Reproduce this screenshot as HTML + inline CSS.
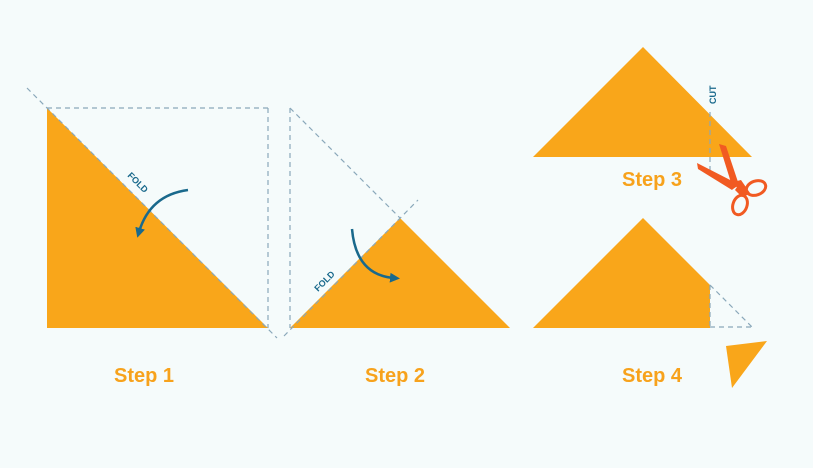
<!DOCTYPE html>
<html><head><meta charset="utf-8"><style>
html,body{margin:0;padding:0;background:#f5fbfb;}
svg{display:block}
text{font-family:"Liberation Sans",sans-serif;}
</style></head><body>
<svg width="813" height="468" viewBox="0 0 813 468" xmlns="http://www.w3.org/2000/svg">
<rect width="813" height="468" fill="#f5fbfb"/>
<defs><marker id="ah" markerWidth="10" markerHeight="10" refX="4" refY="5" orient="auto" markerUnits="userSpaceOnUse"><path d="M0,0 L10,5 L0,10 Z" fill="#19698c"/></marker></defs>
<g fill="#f9a61a">
<polygon points="47,108 268,328 47,328"/>
<polygon points="290,328 400,218 510,328"/>
<polygon points="533,157 643,47 752,157"/>
<polygon points="533,328 643,218 710,285 710,328"/>
<polygon points="726,346 767,341 732,388"/>
</g>
<g stroke="#8aa8ba" stroke-width="1.2" fill="none" stroke-dasharray="5,4">
<line x1="47" y1="108" x2="268" y2="108"/>
<line x1="268" y1="108" x2="268" y2="328"/>
<line x1="27" y1="88" x2="277" y2="338"/>
<line x1="290" y1="108" x2="290" y2="328"/>
<line x1="290" y1="108" x2="400" y2="218"/>
<line x1="284" y1="336" x2="418" y2="200"/>
<line x1="710" y1="112" x2="710" y2="170"/>
<line x1="710" y1="285" x2="752" y2="327"/>
<line x1="710" y1="285" x2="710" y2="327"/>
<line x1="710" y1="327" x2="752" y2="327"/>
</g>
<path d="M188,190 Q150,195 139,232" stroke="#19698c" stroke-width="2.5" fill="none" marker-end="url(#ah)"/>
<path d="M352,229 Q356,275 394,278" stroke="#19698c" stroke-width="2.5" fill="none" marker-end="url(#ah)"/>
<text x="0" y="0" transform="translate(127,176) rotate(45)" font-size="9" fill="#19698c" font-weight="bold">FOLD</text>
<text x="0" y="0" transform="translate(318,292) rotate(-45)" font-size="9" fill="#19698c" font-weight="bold">FOLD</text>
<text x="0" y="0" transform="translate(716,104) rotate(-90)" font-size="9" fill="#19698c" font-weight="bold">CUT</text>
<g fill="#f15a22">
<polygon points="697,163 698,169 732,190 738,184"/>
<polygon points="719,144 726,146 739,185 733,189"/>
<polygon points="733,182 741,180 750,193 744,197"/>
<polygon points="735,190 739,184 748,190 742,197"/>
</g>
<g fill="none" stroke="#f15a22" stroke-width="3">
<ellipse cx="756" cy="188" rx="10" ry="7" transform="rotate(-20 756 188)"/>
<ellipse cx="740" cy="205" rx="7" ry="10" transform="rotate(20 740 205)"/>
</g>
<g font-size="20" font-weight="bold" fill="#f7a21c" text-anchor="middle">
<text x="144" y="382">Step 1</text>
<text x="395" y="382">Step 2</text>
<text x="652" y="186">Step 3</text>
<text x="652" y="382">Step 4</text>
</g>
</svg>
</body></html>
